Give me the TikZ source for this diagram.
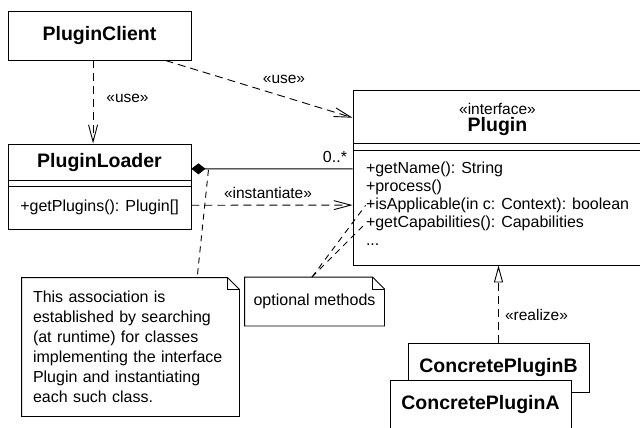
\documentclass[tikz,border=0pt]{standalone}
\usepackage{fontspec}
\setmainfont{Liberation Sans}
\usetikzlibrary{arrows.meta,calc}
\begin{document}
\begin{tikzpicture}[x=1pt,y=-1pt, line width=0.9pt,
  box/.style={draw, rectangle, inner sep=0pt},
  cname/.style={font=\fontsize{19.5}{22}\selectfont\bfseries, inner sep=0pt},
  txt/.style={font=\fontsize{16}{20}\selectfont, inner sep=0pt},
  lbl/.style={font=\fontsize{15.5}{18}\selectfont, inner sep=0pt},
  dep/.style={dash pattern=on 8pt off 5pt, -{Straight Barb[length=17pt,width=9pt]}},
  notelink/.style={dash pattern=on 6pt off 5pt},
  notebox/.style={rectangle, inner sep=0pt},
]
\useasboundingbox (0,0) rectangle (640,428);
\clip (0,0) rectangle (640,428);

% PluginClient
\node[box, minimum width=183pt, minimum height=49pt, cname] (cl) at (99.5,35.5) {PluginClient};

% PluginLoader
\node[box, minimum width=183pt, minimum height=85pt] (ld) at (99.5,186.5) {};
\node[cname] (ldn) at ($(ld.north)+(0,19)$) {PluginLoader};
\draw ($(ld.north west)+(0,37)$) -- ($(ld.north east)+(0,37)$);
\draw ($(ld.north west)+(0,43)$) -- ($(ld.north east)+(0,43)$);
\node[txt] (ldm) at ($(ld.north)+(0,63.5)$) {+getPlugins(): Plugin[]};

% Plugin
\node[box, minimum width=289pt, minimum height=175pt] (pl) at (497.5,177.5) {};
\node[lbl] (plst) at ($(pl.north)+(0,19)$) {«interface»};
\node[cname] (pln) at ($(pl.north)+(0,37)$) {Plugin};
\draw ($(pl.north west)+(0,54)$) -- ($(pl.north east)+(0,54)$);
\draw ($(pl.north west)+(0,61)$) -- ($(pl.north east)+(0,61)$);
\node[txt, anchor=base west] (m1) at ($(pl.north west)+(13,84)$) {+getName(): String};
\node[txt, anchor=base west] (m2) at ($(pl.north west)+(13,102)$) {+process()};
\node[txt, anchor=base west] (m3) at ($(pl.north west)+(13,120)$) {+isApplicable(in c: Context): boolean};
\node[txt, anchor=base west] (m4) at ($(pl.north west)+(13,138)$) {+getCapabilities(): Capabilities};
\node[txt, anchor=base west] (m5) at ($(pl.north west)+(13,156)$) {...};

% Notes
\node[notebox, minimum width=217pt, minimum height=138pt, txt, text width=195pt, align=left] (n1) at (130.5,347)
  {This association is\\established by searching\\(at runtime) for classes\\implementing the interface\\Plugin and instantiating\\each such class.};
\draw (n1.north west) -- ($(n1.north east)+(-12,0)$) -- ($(n1.north east)+(0,12)$) -- (n1.south east) -- (n1.south west) -- cycle;
\draw ($(n1.north east)+(-12,0)$) -- ($(n1.north east)+(-12,12)$) -- ($(n1.north east)+(0,12)$);

\node[notebox, minimum width=139pt, minimum height=48pt, txt] (n2) at (314.5,301.5) {optional methods};
\draw (n2.north west) -- ($(n2.north east)+(-12,0)$) -- ($(n2.north east)+(0,12)$) -- (n2.south east) -- (n2.south west) -- cycle;
\draw ($(n2.north east)+(-12,0)$) -- ($(n2.north east)+(-12,12)$) -- ($(n2.north east)+(0,12)$);

% Concrete plugins
\node[box, fill=white, minimum width=181pt, minimum height=49pt, cname] (cb) at (498.5,367.5) {ConcretePluginB};
\node[box, fill=white, minimum width=181pt, minimum height=49pt, cname] (ca) at (480.5,404.5) {ConcretePluginA};

% Connectors
\draw[dep] ($(cl.south west)!0.465!(cl.south east)$) -- ($(ld.north west)!0.465!(ld.north east)$);
\node[lbl] (u1l) at (127.5,98) {«use»};

\draw[dep] ($(cl.south west)!0.858!(cl.south east)$) -- ($(pl.north west)!0.16!(pl.south west)$);
\node[lbl] (u2l) at (284,79) {«use»};

\draw[{Diamond[length=14pt,width=11pt,fill=black]}-] ($(ld.north east)!0.294!(ld.south east)$) -- ($(pl.north west)!0.451!(pl.south west)$);
\coordinate (ac) at ($(ld.north east)!0.294!(ld.south east)+(17,1)$);
\node[txt] (mult) at (335,157) {0..*};

\draw[dep] ($(ld.north east)!0.718!(ld.south east)$) -- ($(pl.north west)!0.657!(pl.south west)$);
\node[lbl] (insl) at (268,193) {«instantiate»};

\draw[dash pattern=on 8pt off 5pt, -{Triangle[length=17pt,width=9pt,fill=white]}] (cb.north) -- (cb.north |- pl.south);
\node[lbl] (rl) at (536.5,315) {«realize»};

\draw[notelink] (ac) -- ($(n1.north west)!0.806!(n1.north east)$);
\draw[notelink] ($(n2.north west)!0.482!(n2.north east)$) -- (m3.west);
\draw[notelink] ($(n2.north west)!0.482!(n2.north east)$) -- (m4.west);
\end{tikzpicture}
\end{document}
